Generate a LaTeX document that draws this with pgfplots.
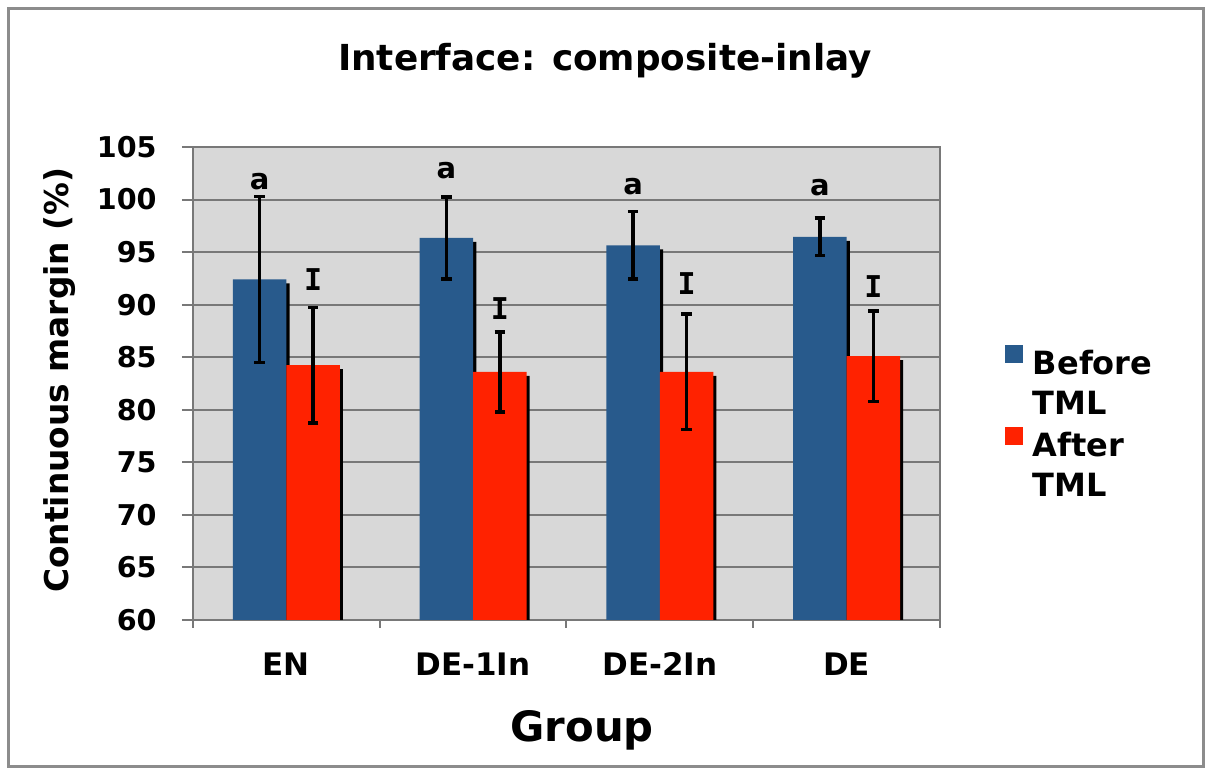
\documentclass[border=0pt]{standalone}
\usepackage{fontspec}
\setmainfont{DejaVu Sans}
\newfontfamily\monofont{DejaVu Sans Mono}
\usepackage{pgfplots}
\pgfplotsset{compat=1.18}
\definecolor{barblue}{RGB}{40,90,140}
\definecolor{barred}{RGB}{255,34,0}
\definecolor{plotbg}{RGB}{216,216,216}
\definecolor{gridgray}{RGB}{120,120,120}
\definecolor{framegray}{RGB}{140,140,140}
\begin{document}
\begin{tikzpicture}
\path[use as bounding box] (-96.5pt,-74.5pt) rectangle (506.5pt,310pt);
\draw[framegray, line width=1.5pt] (-92pt,-73.5pt) rectangle (505pt,305.5pt);
\begin{axis}[
  at={(0pt,0pt)}, anchor=south west,
  scale only axis, width=373.5pt, height=236.5pt,
  xmin=-0.5, xmax=3.5, ymin=60, ymax=105,
  ytick={60,65,70,75,80,85,90,95,100,105},
  xtick={0,1,2,3}, xticklabels={EN,DE-1In,DE-2In,DE},
  minor xtick={-0.5,0.5,1.5,2.5,3.5},
  xtick pos=bottom, ytick pos=left,
  ybar, bar width=0.286,
  axis background/.style={fill=plotbg},
  ymajorgrids, grid style={gridgray, line width=1pt},
  axis line style={gridgray, line width=1pt},
  tick align=outside, major tick length=5.5pt, minor tick length=4pt,
  ytick style={gridgray, line width=1pt},
  major x tick style={draw=none},
  minor x tick style={draw=gridgray, line width=1pt},
  /pgf/number format/assume math mode=true,
  yticklabel style={font=\bfseries\fontsize{14.3pt}{16pt}\selectfont, anchor=east, inner sep=0pt, xshift=-12.5pt},
  xticklabel style={font=\bfseries\fontsize{15.5pt}{18pt}\selectfont, anchor=base, inner sep=0pt, yshift=-22.5pt},
  title={Interface: composite-inlay},
  title style={font=\bfseries\fontsize{17.9pt}{20pt}\selectfont, at={(0.5515,1)}, anchor=base, yshift=32pt, inner sep=0pt},
  ylabel={Continuous margin (\%)},
  ylabel style={font=\bfseries\fontsize{16.4pt}{18pt}\selectfont, at={(-0.178,0.507)}, anchor=center, inner sep=0pt},
  xlabel={Group},
  xlabel style={font=\bfseries\fontsize{20.9pt}{24pt}\selectfont, at={(0.521,0)}, anchor=base, yshift=-61pt, inner sep=0pt},
  legend style={at={(1.087,0.5814)}, anchor=north west, draw=none, fill=none, inner sep=0pt, outer sep=0pt,
    font=\bfseries\fontsize{16pt}{18pt}\selectfont, column sep=5pt, row sep=4pt,
    nodes={inner sep=0pt, text height=14pt, text depth=2pt}},
  legend cell align=left,
  legend image code/.code={\fill[#1] (0pt,0pt) rectangle (9pt,9pt);},
  error bars/error bar style={black, line width=1.7pt},
  error bars/error mark options={rotate=90, black, mark size=2.6pt, line width=1.7pt},
]
% Before TML: shadow then bars
\addplot[forget plot, fill=black, draw=none, bar shift=-0.143, xshift=1.6pt, yshift=-2pt]
  coordinates {(0,92.4) (1,96.35) (2,95.65) (3,96.45)};
\addplot[fill=barblue, draw=none, bar shift=-0.143,
  error bars/.cd, y dir=both, y explicit]
  coordinates {(0,92.4) +- (0,7.9) (1,96.35) +- (0,3.9) (2,95.65) +- (0,3.2) (3,96.45) +- (0,1.8)};
\addlegendentry{Before}
\addlegendimage{empty legend}
\addlegendentry{TML}
% After TML: shadow then bars
\addplot[forget plot, fill=black, draw=none, bar shift=0.143, xshift=1.6pt, yshift=-2pt]
  coordinates {(0,84.25) (1,83.6) (2,83.6) (3,85.1)};
\addplot[fill=barred, draw=none, bar shift=0.143,
  error bars/.cd, y dir=both, y explicit]
  coordinates {(0,84.25) +- (0,5.5) (1,83.6) +- (0,3.8) (2,83.6) +- (0,5.5) (3,85.1) +- (0,4.3)};
\addlegendentry{After}
\addlegendimage{empty legend}
\addlegendentry{TML}
% significance letters
\node[font=\bfseries\fontsize{14.5pt}{16pt}\selectfont] at (axis cs:-0.143,101.7) {a};
\node[font=\bfseries\fontsize{14.5pt}{16pt}\selectfont] at (axis cs:0.857,102.8) {a};
\node[font=\bfseries\fontsize{14.5pt}{16pt}\selectfont] at (axis cs:1.857,101.2) {a};
\node[font=\bfseries\fontsize{14.5pt}{16pt}\selectfont] at (axis cs:2.857,101.1) {a};
\node[font=\monofont\bfseries\fontsize{15pt}{16pt}\selectfont] at (axis cs:0.143,92.35) {I};
\node[font=\monofont\bfseries\fontsize{15pt}{16pt}\selectfont] at (axis cs:1.143,89.65) {I};
\node[font=\monofont\bfseries\fontsize{15pt}{16pt}\selectfont] at (axis cs:2.143,92.0) {I};
\node[font=\monofont\bfseries\fontsize{15pt}{16pt}\selectfont] at (axis cs:3.143,91.7) {I};
\end{axis}
\end{tikzpicture}
\end{document}
